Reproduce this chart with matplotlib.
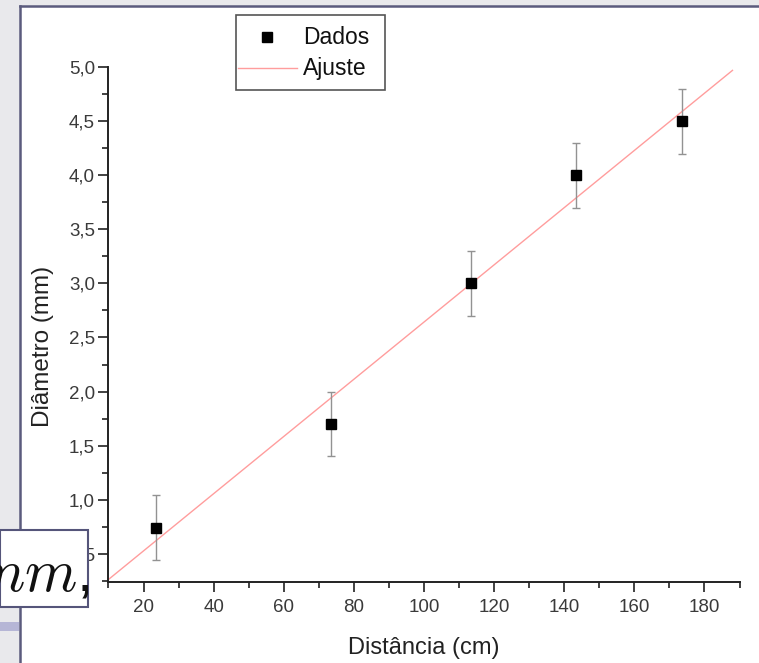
import numpy as np
import matplotlib
matplotlib.use("Agg")
import matplotlib.pyplot as plt
from matplotlib.lines import Line2D
from matplotlib.patches import Rectangle
from matplotlib.ticker import MultipleLocator, FuncFormatter

# ---- data ----
distancia = [23.5, 73.5, 113.5, 143.5, 173.5]      # cm
diametro = [0.74, 1.70, 3.00, 4.00, 4.50]          # mm
erro = [0.30, 0.30, 0.30, 0.30, 0.30]              # mm
fit_range = [10, 188]
legend_labels = ["Dados", "Ajuste"]
xlabel = "Distância (cm)"
ylabel = "Diâmetro (mm)"
overlay_text = r"$mm$,"

W, H = 759, 663
plt.rcParams['font.family'] = ['Liberation Sans', 'DejaVu Sans']
plt.rcParams['mathtext.fontset'] = 'cm'

FIT_COLOR = '#ff9d9d'
ERR_COLOR = '#929292'

fig = plt.figure(figsize=(W / 100, H / 100), dpi=100, facecolor='#e9e9ec')

def fx(px):
    return px / W

def fy(py):
    return 1 - py / H

# white slide panel
fig.patches.append(Rectangle((fx(20), 0), 1 - fx(20), fy(6), transform=fig.transFigure,
                             facecolor='white', edgecolor='none', zorder=0))
fig.add_artist(Line2D([fx(20), 1], [fy(6), fy(6)], color='#5b5b7d', lw=1.8, zorder=1))
fig.add_artist(Line2D([fx(20), fx(20)], [0, fy(6)], color='#5b5b7d', lw=1.8, zorder=1))
# lavender stripe on left
fig.patches.append(Rectangle((0, fy(631)), fx(19), (631 - 622) / H, transform=fig.transFigure,
                             facecolor='#b6b6d6', edgecolor='none', zorder=1))

ax = fig.add_axes([fx(108.5), fy(582), (739.5 - 108.5) / W, (582 - 67) / H])
ax.set_facecolor('none')
ax.set_zorder(2)

xs = np.array(distancia)
ys = np.array(diametro)
coef = np.polyfit(xs, ys, 1)
fit_x = np.array(fit_range, dtype=float)
ax.plot(fit_x, np.polyval(coef, fit_x), color=FIT_COLOR, lw=1.0, zorder=2)
ax.errorbar(xs, ys, yerr=erro, fmt='none', ecolor=ERR_COLOR, elinewidth=1.0,
            capsize=3.2, capthick=1.0, zorder=3)
ax.plot(xs, ys, ls='none', marker='s', ms=7, color='black', zorder=4)

ax.set_xlim(10, 190)
ax.set_ylim(0.24, 5.0)
ax.xaxis.set_major_locator(MultipleLocator(20))
ax.xaxis.set_minor_locator(MultipleLocator(10))
ax.yaxis.set_major_locator(MultipleLocator(0.5))
ax.yaxis.set_minor_locator(MultipleLocator(0.25))
ax.yaxis.set_major_formatter(FuncFormatter(lambda v, p: f"{v:.1f}".replace('.', ',')))
ax.xaxis.set_major_formatter(FuncFormatter(lambda v, p: f"{v:.0f}"))
for s in ['top', 'right']:
    ax.spines[s].set_visible(False)
for s in ['left', 'bottom']:
    ax.spines[s].set_linewidth(1.4)
    ax.spines[s].set_color('#222222')
ax.tick_params(which='major', direction='out', length=7.2, width=1.3, color='#333333',
               labelsize=13.5, labelcolor='#3a3a3a')
ax.tick_params(which='minor', direction='out', length=4.3, width=1.3, color='#333333')
ax.tick_params(axis='x', which='major', pad=5)
ax.tick_params(axis='y', which='major', pad=2.5)

fig.text(fx(424), fy(648), xlabel, ha='center', va='center', fontsize=17, color='#222222')
fig.text(fx(43), fy(346), ylabel, ha='center', va='center', rotation=90,
         fontsize=17.5, color='#222222')

# legend, drawn as a framed box in figure coordinates
fig.add_artist(Rectangle((fx(236), fy(90)), fx(385) - fx(236), (90 - 15) / H,
                         transform=fig.transFigure, facecolor='white',
                         edgecolor='#555555', lw=1.2, zorder=5))
fig.add_artist(Line2D([fx(267)], [fy(37)], ls='none', marker='s', ms=7, color='black',
                      zorder=6))
fig.add_artist(Line2D([fx(238), fx(297)], [fy(68), fy(68)], color=FIT_COLOR, lw=1.0,
                      zorder=6))
for lab, py in zip(legend_labels, [37, 68]):
    fig.text(fx(303), fy(py), lab, ha='left', va='center', fontsize=16.5,
             color='#111111', zorder=6)

# overlay box in lower-left
box = Rectangle((0, fy(607)), fx(88), (607 - 530) / H, transform=fig.transFigure,
                facecolor='white', edgecolor='#55557a', lw=1.5, zorder=10)
fig.add_artist(box)
t = fig.text(fx(90), fy(590), overlay_text, ha='right', va='baseline', fontsize=43,
             color='#111111', zorder=11)
t.set_clip_path(box)

fig.savefig('out.png', dpi=100, facecolor=fig.get_facecolor())
